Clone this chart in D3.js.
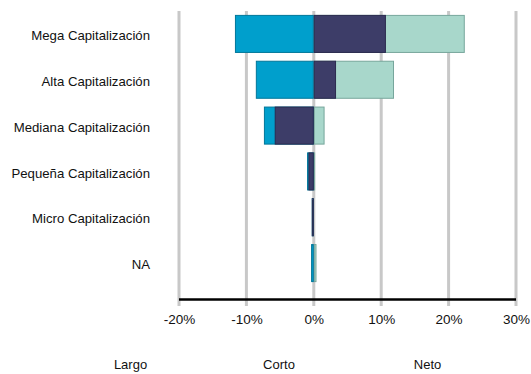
<!DOCTYPE html>
<html>
<head>
<meta charset="utf-8">
<script src="https://cdn.jsdelivr.net/npm/d3@7"></script>
<style>
  html, body { margin: 0; padding: 0; background: #fff; }
  svg { display: block; font-family: "Liberation Sans", Arial, sans-serif; }
</style>
</head>
<body>
<svg id="chart" width="531" height="374"></svg>
<script>
// Exposición por capitalización (%)
const categories = ["Mega Capitalización", "Alta Capitalización", "Mediana Capitalización",
                    "Pequeña Capitalización", "Micro Capitalización", "NA"];
const largo = [22.4, 11.9, 1.6, 0.2, 0.0, 0.4];
const corto = [-11.7, -8.6, -7.4, -1.0, -0.3, -0.4];
const neto  = [10.7, 3.3, -5.8, -0.8, -0.3, 0.0];
const tickValues = [-20, -10, 0, 10, 20, 30];
const legendLabels = ["Largo", "Corto", "Neto"];

const colors = {
  Largo: { fill: "#a8d7cb", stroke: "#77a69c" },
  Corto: { fill: "#009fcc", stroke: "#00779a" },
  Neto:  { fill: "#3d3d68", stroke: "#2b2b4f" }
};

const svg = d3.select("#chart");

const x = d3.scaleLinear().domain([-20, 30]).range([179, 516]);
const y = d3.scaleBand().domain(categories).range([11, 286])
  .paddingInner(0.17).paddingOuter(0.085);

const gridTop = 11, axisY = 299.5, gridBottom = 306;

// vertical gridlines
svg.append("g").selectAll("line").data(tickValues).join("line")
  .attr("x1", d => x(d)).attr("x2", d => x(d))
  .attr("y1", gridTop).attr("y2", gridBottom)
  .attr("stroke", "#c8c8c8").attr("stroke-width", 3);

// bars: long first, then short, then net on top
const series = [
  { key: "Largo", values: largo },
  { key: "Corto", values: corto },
  { key: "Neto", values: neto }
];
series.forEach(s => {
  svg.append("g").selectAll("rect")
    .data(categories.map((c, i) => ({ c, v: s.values[i] })))
    .join("rect")
    .attr("x", d => x(Math.min(0, d.v)) + 0.5)
    .attr("y", d => y(d.c) + 0.5)
    .attr("width", d => Math.max(0, Math.abs(x(d.v) - x(0)) - 1))
    .attr("height", y.bandwidth() - 1)
    .attr("fill", colors[s.key].fill)
    .attr("stroke", colors[s.key].stroke)
    .attr("stroke-width", 1)
    .attr("stroke-opacity", d => Math.abs(d.v) > 0.05 ? 1 : 0);
});

// x axis
const xAxis = d3.axisBottom(x).tickValues(tickValues)
  .tickFormat(d => d + "%").tickSize(0).tickPadding(15);
const ax = svg.append("g").attr("transform", `translate(0,${axisY})`).call(xAxis);
ax.select(".domain").attr("stroke", "#000").attr("stroke-width", 2.5)
  .attr("d", `M${x(-20)},0H${x(30)}`);
ax.selectAll("text").attr("font-size", 13.5).attr("fill", "#111")
  .attr("font-family", "Liberation Sans, Arial, sans-serif");

// category labels
svg.append("g").selectAll("text").data(categories).join("text")
  .attr("x", 150)
  .attr("y", d => y(d) + y.bandwidth() / 2 + 1.5)
  .attr("dy", "0.35em")
  .attr("text-anchor", "end")
  .attr("font-size", 13.2)
  .attr("fill", "#111")
  .text(d => d);

// legend
const legendX = d3.scalePoint().domain(legendLabels).range([130.5, 427.5]);
svg.append("g").selectAll("text").data(legendLabels).join("text")
  .attr("x", d => legendX(d))
  .attr("y", 369)
  .attr("text-anchor", "middle")
  .attr("font-size", 13)
  .attr("fill", "#111")
  .text(d => d);
</script>
</body>
</html>
